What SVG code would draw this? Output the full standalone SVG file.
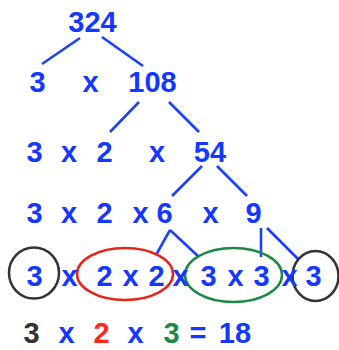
<svg xmlns="http://www.w3.org/2000/svg" width="339" height="350" viewBox="0 0 339 350">
<style>
text{font-family:"Liberation Sans",Arial,Helvetica,sans-serif;font-weight:bold;font-size:29px;text-anchor:middle;fill:#1438ff}
.e{fill:none;stroke-width:2.5}
.k{stroke:#333}
.r{stroke:#e8231a}
.g{stroke:#1a8a44}
#connectors line{stroke:#1b40ff;stroke-width:2.6}
</style>
<rect width="339" height="350" fill="#fff"/>
<g id="connectors">
<line x1="80" y1="38" x2="42" y2="64"/>
<line x1="102" y1="37" x2="143" y2="66"/>
<line x1="139" y1="102" x2="110" y2="132"/>
<line x1="169" y1="102" x2="199" y2="132"/>
<line x1="202" y1="166" x2="172" y2="196"/>
<line x1="217" y1="166" x2="247" y2="196"/>
<line x1="170" y1="230" x2="156" y2="255"/>
<line x1="170" y1="230" x2="199" y2="257"/>
<line x1="261" y1="228" x2="261" y2="257"/>
<line x1="267" y1="228" x2="298" y2="259"/>
</g>
<g id="n324"><text x="92.5" y="32">324</text></g>
<g id="row2"><text x="37.5" y="92">3</text><text x="90.5" y="92">x</text><text x="152.5" y="92">108</text></g>
<g id="row3"><text x="34.5" y="162">3</text><text x="69" y="162">x</text><text x="104.5" y="162">2</text><text x="157" y="162">x</text><text x="210" y="162">54</text></g>
<g id="row4"><text x="34.5" y="223">3</text><text x="69" y="223">x</text><text x="104.5" y="223">2</text><text x="140.5" y="223">x</text><text x="164.5" y="223">6</text><text x="210.5" y="223">x</text><text x="253.5" y="223">9</text></g>
<g id="row5">
<ellipse class="e k" cx="34" cy="273" rx="25" ry="25.5"/>
<ellipse class="e r" cx="125" cy="274" rx="48" ry="26"/>
<ellipse class="e g" cx="233.5" cy="275" rx="48.5" ry="27"/>
<ellipse class="e k" cx="315.5" cy="276" rx="23" ry="25"/>
<text x="34.5" y="286">3</text><text x="69.5" y="286">x</text><text x="104.5" y="286">2</text><text x="130.5" y="286">x</text><text x="156.5" y="286">2</text><text x="180.5" y="286">x</text><text x="208.5" y="286">3</text><text x="235.5" y="286">x</text><text x="261.5" y="286">3</text><text x="289.5" y="286">x</text><text x="313.5" y="286">3</text>
</g>
<g id="result"><text x="31.5" y="343" style="fill:#333">3</text><text x="66.5" y="343">x</text><text x="101.5" y="343" style="fill:#ff2a1a">2</text><text x="135.5" y="343">x</text><text x="171.5" y="343" style="fill:#1a8a44">3</text><text x="198" y="343">=</text><text x="235" y="343">18</text></g>
</svg>
